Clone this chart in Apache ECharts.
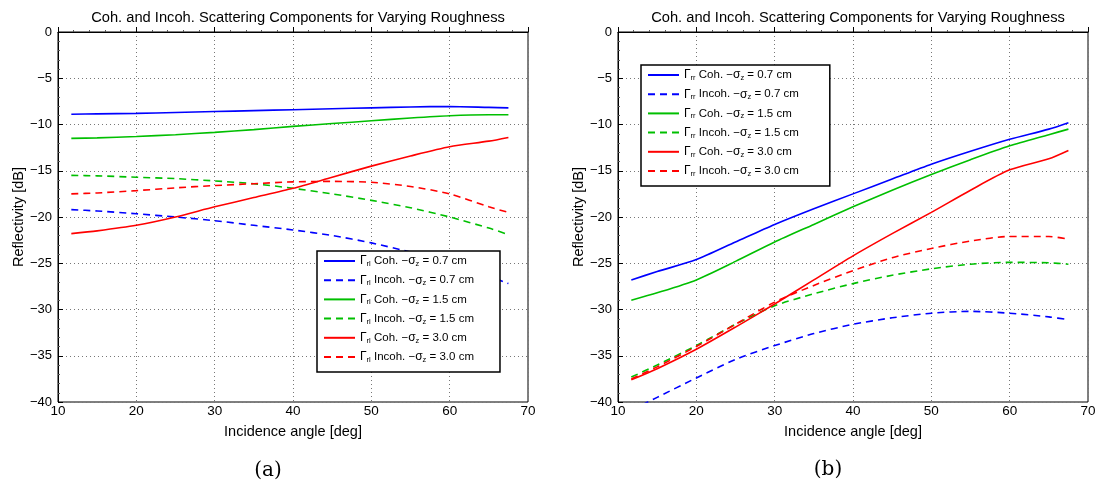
<!DOCTYPE html>
<html><head><meta charset="utf-8">
<script src="https://cdn.jsdelivr.net/npm/echarts@6/dist/echarts.min.js"></script>
<style>html,body{margin:0;padding:0;background:#fff}#c{width:1103px;height:486px}</style>
</head><body><div id="c"></div>
<script>
// ---- data ----
const angles = [11.7, 15, 20, 25, 30, 35, 40, 45, 50, 55, 60, 65, 67.5];
const xTicks = [10, 20, 30, 40, 50, 60, 70];
const yTicks = [0, -5, -10, -15, -20, -25, -30, -35, -40];
const roughness = ['0.7', '1.5', '3.0'];

// (a) Gamma_rl
const rlCoh07   = [-8.9, -8.85, -8.8, -8.7, -8.6, -8.5, -8.4, -8.3, -8.2, -8.1, -8.05, -8.15, -8.2];
const rlIncoh07 = [-19.2, -19.35, -19.65, -20.0, -20.4, -20.9, -21.4, -22.0, -22.8, -23.8, -25.0, -26.4, -27.2];
const rlCoh15   = [-11.5, -11.45, -11.3, -11.1, -10.85, -10.55, -10.2, -9.9, -9.6, -9.3, -9.05, -8.95, -8.95];
const rlIncoh15 = [-15.5, -15.55, -15.7, -15.85, -16.1, -16.4, -16.9, -17.5, -18.2, -19.0, -20.0, -21.2, -21.9];
const rlCoh30   = [-21.8, -21.5, -20.9, -20.0, -18.9, -17.9, -16.9, -15.7, -14.5, -13.4, -12.4, -11.8, -11.4];
const rlIncoh30 = [-17.5, -17.4, -17.15, -16.85, -16.6, -16.4, -16.2, -16.15, -16.25, -16.7, -17.5, -18.9, -19.5];

// (b) Gamma_rr
const rrCoh07   = [-26.8, -25.9, -24.6, -22.7, -20.8, -19.1, -17.5, -15.9, -14.3, -12.9, -11.6, -10.5, -9.8];
const rrIncoh07 = [-40.9, -39.5, -37.4, -35.4, -33.9, -32.6, -31.6, -30.9, -30.4, -30.2, -30.4, -30.8, -31.1];
const rrCoh15   = [-29.0, -28.2, -26.8, -24.8, -22.7, -20.8, -18.9, -17.1, -15.4, -13.8, -12.3, -11.1, -10.5];
const rrIncoh15 = [-37.3, -36.0, -33.9, -31.6, -29.6, -28.3, -27.2, -26.3, -25.6, -25.1, -24.9, -24.95, -25.1];
const rrCoh30   = [-37.6, -36.4, -34.3, -31.9, -29.4, -26.8, -24.2, -21.8, -19.5, -17.1, -14.9, -13.7, -12.8];
const rrIncoh30 = [-37.5, -36.2, -34.0, -31.6, -29.2, -27.4, -25.8, -24.4, -23.4, -22.6, -22.1, -22.1, -22.4];

const titleText = 'Coh. and Incoh. Scattering Components for Varying Roughness';
const xName = 'Incidence angle [deg]';
const yName = 'Reflectivity [dB]';
const captions = ['(a)', '(b)'];
const colors = ['#0000ff', '#00bf00', '#ff0000'];

// ---- build ----
const FONT = 'Liberation Sans, Arial, sans-serif';
const pts = arr => angles.map((a, i) => [a, arr[i]]);

function mkSeries(prefix, sub, coh, incoh, gi) {
  const out = [];
  const names = [];
  for (let k = 0; k < 3; k++) {
    const nC = prefix + '|' + sub + '|Coh.|' + roughness[k];
    const nI = prefix + '|' + sub + '|Incoh.|' + roughness[k];
    names.push(nC, nI);
    out.push({type: 'line', name: nC, xAxisIndex: gi, yAxisIndex: gi, data: pts(coh[k]),
      showSymbol: false, symbol: 'none', smooth: 0.25, color: colors[k],
      lineStyle: {color: colors[k], width: 1.6, type: 'solid'}});
    out.push({type: 'line', name: nI, xAxisIndex: gi, yAxisIndex: gi, data: pts(incoh[k]),
      showSymbol: false, symbol: 'none', smooth: 0.25, color: colors[k],
      lineStyle: {color: colors[k], width: 1.6, type: [7, 5]}});
  }
  return {out, names};
}

const A = mkSeries('a', 'rl', [rlCoh07, rlCoh15, rlCoh30], [rlIncoh07, rlIncoh15, rlIncoh30], 0);
const B = mkSeries('b', 'rr', [rrCoh07, rrCoh15, rrCoh30], [rrIncoh07, rrIncoh15, rrIncoh30], 1);

const minus = v => String(v).replace('-', '\u2212');

function xAx(gi) {
  return {type: 'value', gridIndex: gi, min: 10, max: 70, interval: 10,
    name: xName, nameLocation: 'middle', nameGap: 22,
    nameTextStyle: {fontFamily: FONT, fontSize: 14.5, color: '#000'},
    axisLine: {show: true, lineStyle: {color: '#000', width: 1}},
    axisTick: {show: true, inside: true, length: 5, lineStyle: {color: '#000'}},
    minorTick: {show: true, splitNumber: 5, length: 2, lineStyle: {color: '#555'}},
    axisLabel: {fontFamily: FONT, fontSize: 13.5, color: '#000', margin: 2,
      formatter: v => xTicks.includes(v) ? minus(v) : ''},
    splitLine: {show: true, lineStyle: {color: '#777', type: [1, 3], width: 1}}};
}
function yAx(gi) {
  return {type: 'value', gridIndex: gi, min: -40, max: 0, interval: 5,
    name: yName, nameLocation: 'middle', nameGap: 32,
    nameTextStyle: {fontFamily: FONT, fontSize: 14.5, color: '#000'},
    axisLine: {show: true, lineStyle: {color: '#000', width: 1}},
    axisTick: {show: true, inside: true, length: 5, lineStyle: {color: '#000'}},
    minorTick: {show: true, splitNumber: 5, length: 2, lineStyle: {color: '#555'}},
    axisLabel: {fontFamily: FONT, fontSize: 13, color: '#000', margin: 6,
      formatter: v => yTicks.includes(v) ? minus(v) : ''},
    splitLine: {show: true, lineStyle: {color: '#777', type: [1, 3], width: 1}}};
}

function legendFmt(name) {
  const p = name.split('|');
  return '{g|\u0393}{s|' + p[1] + '}{t| ' + p[2] + ' \u2212}{g|\u03c3}{s|z}{t| = ' + p[3] + ' cm}';
}
function mkLegend(names, left, top, padRight) {
  return {data: names, orient: 'vertical', left: left, top: top,
    padding: [3, padRight, 8, 6], itemGap: 5.2, itemWidth: 31, itemHeight: 14,
    backgroundColor: '#fff', borderColor: '#000', borderWidth: 1.5,
    selectedMode: false,
    itemStyle: {opacity: 0},
    formatter: legendFmt,
    textStyle: {fontFamily: FONT, fontSize: 11.5, color: '#000', lineHeight: 14,
      rich: {g: {fontFamily: FONT, fontSize: 12, color: '#000', lineHeight: 14},
             t: {fontFamily: FONT, fontSize: 11.5, color: '#000', lineHeight: 14},
             s: {fontFamily: FONT, fontSize: 7.5, color: '#000', lineHeight: 8, verticalAlign: 'bottom'}}}};
}

const option = {
  animation: false,
  backgroundColor: '#fff',
  title: [
    {text: titleText, left: 293, top: 5, textAlign: 'center',
      textStyle: {fontFamily: FONT, fontSize: 14.7, fontWeight: 'normal', color: '#000'}},
    {text: titleText, left: 853, top: 5, textAlign: 'center',
      textStyle: {fontFamily: FONT, fontSize: 14.7, fontWeight: 'normal', color: '#000'}}
  ],
  grid: [
    {left: 58, top: 32, width: 470, height: 370, show: true, borderColor: '#000', borderWidth: 1, backgroundColor: 'transparent'},
    {left: 618, top: 32, width: 470, height: 370, show: true, borderColor: '#000', borderWidth: 1, backgroundColor: 'transparent'}
  ],
  xAxis: [xAx(0), xAx(1)],
  yAxis: [yAx(0), yAx(1)],
  legend: [mkLegend(A.names, 317, 251, 26), mkLegend(B.names, 641, 65, 31)],
  series: A.out.concat(B.out),
  graphic: [
    {type: 'text', x: 268, y: 471, style: {text: captions[0], x: 0, y: 0, align: 'center', verticalAlign: 'middle', font: '20px "DejaVu Serif", serif', fill: '#000'}},
    {type: 'text', x: 828, y: 470, style: {text: captions[1], x: 0, y: 0, align: 'center', verticalAlign: 'middle', font: '20px "DejaVu Serif", serif', fill: '#000'}}
  ]
};
const chart = echarts.init(document.getElementById('c'), null, {renderer: 'canvas'});
chart.setOption(option);
</script></body></html>
